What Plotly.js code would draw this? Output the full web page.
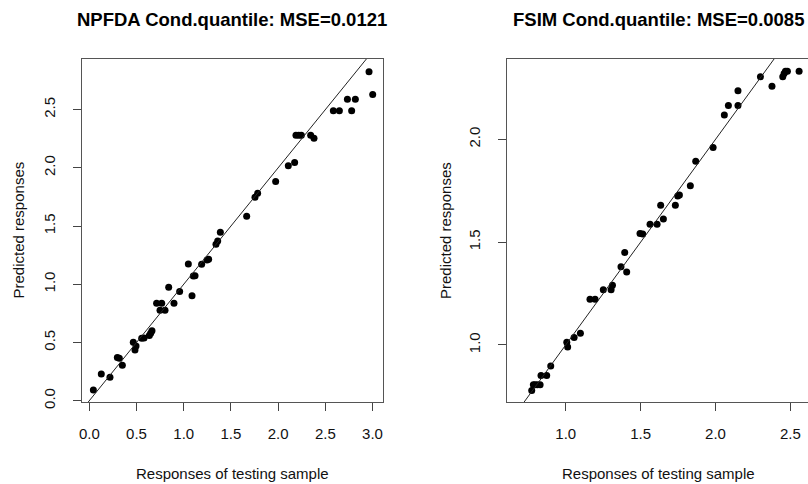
<!DOCTYPE html>
<html>
<head>
<meta charset="utf-8">
<script src="https://cdn.plot.ly/plotly-3.0.1.min.js"></script>
<style>html,body{margin:0;padding:0;background:#fff;}#chart{width:808px;height:484px;}</style>
</head>
<body>
<div id="chart"></div>
<script>
// NPFDA conditional quantile: observed vs predicted
const npfdaX = [0.043,0.127,0.219,0.297,0.318,0.350,0.466,0.484,0.495,0.555,0.580,0.636,0.650,0.664,0.713,0.767,0.749,0.802,0.841,0.897,0.957,1.049,1.088,1.102,1.120,1.190,1.247,1.264,1.342,1.360,1.388,1.667,1.755,1.783,1.974,2.108,2.175,2.189,2.218,2.246,2.345,2.380,2.585,2.649,2.734,2.818,2.779,2.963,3.002];
const npfdaY = [0.092,0.229,0.201,0.370,0.364,0.304,0.502,0.436,0.470,0.536,0.539,0.559,0.579,0.601,0.836,0.836,0.776,0.776,0.974,0.836,0.937,1.174,0.902,1.071,1.074,1.171,1.208,1.214,1.343,1.372,1.446,1.584,1.747,1.781,1.882,2.019,2.045,2.280,2.280,2.280,2.280,2.254,2.491,2.491,2.589,2.589,2.491,2.826,2.629];
// FSIM conditional quantile: observed vs predicted
const fsimX = [0.773,0.784,0.795,0.811,0.829,0.835,0.873,0.900,1.007,1.013,1.056,1.098,1.162,1.196,1.251,1.303,1.312,1.369,1.394,1.407,1.496,1.514,1.563,1.610,1.652,1.634,1.732,1.748,1.759,1.832,1.868,1.984,2.059,2.086,2.150,2.150,2.300,2.377,2.449,2.458,2.467,2.480,2.558];
const fsimY = [0.779,0.807,0.807,0.807,0.807,0.852,0.852,0.898,1.013,0.990,1.036,1.057,1.222,1.222,1.269,1.269,1.290,1.380,1.450,1.355,1.542,1.540,1.587,1.587,1.613,1.680,1.680,1.725,1.729,1.774,1.894,1.961,2.118,2.165,2.165,2.237,2.305,2.258,2.305,2.321,2.332,2.332,2.332];
// reference diagonal y = x
const diagLine = [-1, 4];
const titles = ["NPFDA Cond.quantile: MSE=0.0121", "FSIM Cond.quantile: MSE=0.0085"];
const xLabel = "Responses of testing sample";
const yLabel = "Predicted responses";

const W = 808, H = 484;
const FONT = "Liberation Sans, Arial, Helvetica, sans-serif";
const px = v => v / W, py = v => 1 - v / H;

const pts = {color: '#000', size: 7, symbol: 'circle', line: {width: 0}};
const traces = [
  {x: npfdaX, y: npfdaY, type: 'scatter', mode: 'markers', marker: pts, xaxis: 'x', yaxis: 'y', cliponaxis: false, hoverinfo: 'x+y'},
  {x: diagLine, y: diagLine, type: 'scatter', mode: 'lines', line: {color: '#222', width: 1}, xaxis: 'x', yaxis: 'y', hoverinfo: 'skip'},
  {x: fsimX, y: fsimY, type: 'scatter', mode: 'markers', marker: pts, xaxis: 'x2', yaxis: 'y2', cliponaxis: false, hoverinfo: 'x+y'},
  {x: diagLine, y: diagLine, type: 'scatter', mode: 'lines', line: {color: '#222', width: 1}, xaxis: 'x2', yaxis: 'y2', hoverinfo: 'skip'}
];

const axBase = {
  showgrid: false, zeroline: false, showline: true, linecolor: '#555', linewidth: 1,
  ticks: 'outside', ticklen: 8, tickwidth: 1, tickcolor: '#444',
  dtick: 0.5, tick0: 0, tickformat: '.1f',
  tickfont: {family: FONT, size: 15, color: '#111'}, fixedrange: true
};
const yDom = [py(402), py(59)];

const layout = {
  width: W, height: H,
  margin: {l: 0, r: 0, t: 0, b: 0},
  paper_bgcolor: '#fff', plot_bgcolor: '#fff',
  showlegend: false,
  font: {family: FONT, size: 15, color: '#111'},
  xaxis: Object.assign({}, axBase, {domain: [px(82), px(383)], range: [-0.0773, 3.111], mirror: true, anchor: 'y', ticklabelstandoff: 10}),
  yaxis: Object.assign({}, axBase, {domain: yDom, range: [-0.0112, 2.935], mirror: true, anchor: 'x', tickangle: -90, ticklabelstandoff: 12}),
  xaxis2: Object.assign({}, axBase, {domain: [px(507.3), 1], range: [0.610, 2.6175], mirror: true, anchor: 'y2', ticklabelstandoff: 10}),
  yaxis2: Object.assign({}, axBase, {domain: yDom, range: [0.7225, 2.391], mirror: false, anchor: 'x2', tickangle: -90, ticklabelstandoff: 12}),
  annotations: [
    {text: '<b>' + titles[0] + '</b>', x: px(232.5), y: py(19), xref: 'paper', yref: 'paper', xanchor: 'center', yanchor: 'middle', showarrow: false, font: {family: FONT, size: 18.5, color: '#000'}},
    {text: '<b>' + titles[1] + '</b>', x: px(658), y: py(19), xref: 'paper', yref: 'paper', xanchor: 'center', yanchor: 'middle', showarrow: false, font: {family: FONT, size: 18.5, color: '#000'}},
    {text: xLabel, x: px(232.5), y: py(473), xref: 'paper', yref: 'paper', xanchor: 'center', yanchor: 'middle', showarrow: false, font: {family: FONT, size: 15, color: '#111'}},
    {text: xLabel, x: px(658), y: py(473), xref: 'paper', yref: 'paper', xanchor: 'center', yanchor: 'middle', showarrow: false, font: {family: FONT, size: 15, color: '#111'}},
    {text: yLabel, x: px(18), y: py(230.5), xref: 'paper', yref: 'paper', xanchor: 'center', yanchor: 'middle', textangle: -90, showarrow: false, font: {family: FONT, size: 15, color: '#111'}},
    {text: yLabel, x: px(445), y: py(231), xref: 'paper', yref: 'paper', xanchor: 'center', yanchor: 'middle', textangle: -90, showarrow: false, font: {family: FONT, size: 15, color: '#111'}}
  ]
};

Plotly.newPlot('chart', traces, layout, {staticPlot: true, displayModeBar: false});
</script>
</body>
</html>
